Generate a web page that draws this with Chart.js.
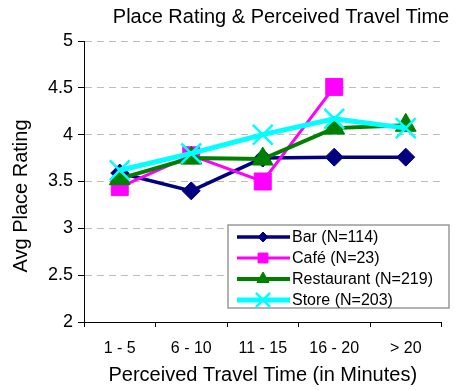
<!DOCTYPE html>
<html>
<head>
<meta charset="utf-8">
<script src="https://cdn.jsdelivr.net/npm/chart.js@4/dist/chart.umd.min.js"></script>
<style>
  html, body { margin: 0; padding: 0; background: #fff; overflow: hidden; }
  #wrap { width: 458px; height: 390px; }
</style>
</head>
<body>
<div id="wrap"><canvas id="rating" width="458" height="390"></canvas></div>
<script>
'use strict';

/* data */
const categories = ['1 - 5', '6 - 10', '11 - 15', '16 - 20', '> 20'];
const barVals        = [3.59, 3.40, 3.75, 3.76, 3.76];
const cafeVals       = [3.44, 3.78, 3.50, 4.51, null];
const restaurantVals = [3.53, 3.75, 3.74, 4.07, 4.10];
const storeVals      = [3.62, 3.80, 4.00, 4.17, 4.07];
const seriesNames = ['Bar (N=114)', 'Café (N=23)', 'Restaurant (N=219)', 'Store (N=203)'];

const FONT = "'Liberation Sans', Arial, sans-serif";

/* legend box inside the plot, line + marker + text */
const legendBox = {
  id: 'legendBox',
  afterDraw(chart) {
    const ctx = chart.ctx;
    const legendR = [5, 7, 7, 10];
    ctx.save();
    ctx.fillStyle = '#fff';
    ctx.strokeStyle = '#999';
    ctx.lineWidth = 1.5;
    ctx.fillRect(228, 225, 221, 83);
    ctx.strokeRect(228, 225, 221, 83);
    chart.data.datasets.forEach((ds, i) => {
      const y = 237 + i * 21;
      ctx.strokeStyle = ds.borderColor;
      ctx.lineWidth = ds.borderWidth;
      ctx.beginPath();
      ctx.moveTo(237, y);
      ctx.lineTo(290, y);
      ctx.stroke();
      ctx.fillStyle = ds.pointBackgroundColor;
      ctx.strokeStyle = ds.pointBorderColor;
      ctx.lineWidth = ds.pointBorderWidth;
      Chart.helpers.drawPoint(ctx, {
        pointStyle: ds.pointStyle, rotation: 0,
        radius: legendR[i], borderWidth: ds.pointBorderWidth,
      }, 263, y);
      ctx.fillStyle = '#000';
      ctx.font = '16px ' + FONT;
      ctx.textAlign = 'left';
      ctx.textBaseline = 'middle';
      ctx.fillText(ds.label, 292, y + 1);
    });
    ctx.restore();
  },
};

/* chart title + y axis title, placed like the original */
const titles = {
  id: 'titles',
  afterDraw(chart) {
    const ctx = chart.ctx;
    ctx.save();
    ctx.fillStyle = '#000';
    ctx.font = '20px ' + FONT;
    ctx.textAlign = 'center';
    ctx.textBaseline = 'middle';
    ctx.fillText('Place Rating & Perceived Travel Time', 281, 17);
    ctx.translate(21, 196);
    ctx.rotate(-Math.PI / 2);
    ctx.fillText('Avg Place Rating', 0, 0);
    ctx.restore();
  },
};

const chart = new Chart(
  document.getElementById('rating').getContext('2d'),
  {
    type: 'line',
    data: {
      labels: categories,
      datasets: [
        {
          label: seriesNames[0], data: barVals, order: 4,
          borderColor: '#000080', borderWidth: 3.5,
          pointStyle: 'rectRot', pointRadius: 9,
          pointBackgroundColor: '#000080', pointBorderColor: '#000080', pointBorderWidth: 1,
        },
        {
          label: seriesNames[1], data: cafeVals, order: 3,
          borderColor: '#FF00FF', borderWidth: 3,
          pointStyle: 'rect', pointRadius: 12,
          pointBackgroundColor: '#FF00FF', pointBorderColor: '#FF00FF', pointBorderWidth: 1,
        },
        {
          label: seriesNames[2], data: restaurantVals, order: 2,
          borderColor: '#008000', borderWidth: 4,
          pointStyle: 'triangle', pointRadius: 12,
          pointBackgroundColor: '#008000', pointBorderColor: '#008000', pointBorderWidth: 1,
        },
        {
          label: seriesNames[3], data: storeVals, order: 1,
          borderColor: '#00FFFF', borderWidth: 5,
          pointStyle: 'crossRot', pointRadius: 14,
          pointBackgroundColor: '#00FFFF', pointBorderColor: '#00FFFF', pointBorderWidth: 2.5,
        },
      ],
    },
    options: {
      responsive: false,
      devicePixelRatio: 1,
      animation: false,
      layout: { padding: { top: 41 } },
      elements: { line: { tension: 0 } },
      plugins: {
        legend: { display: false },
        tooltip: { enabled: false },
        title: { display: false },
      },
      scales: {
        x: {
          offset: true,
          afterFit: s => { s.height = 68; },
          grid: {
            offset: true, drawOnChartArea: false,
            tickLength: 5, tickColor: '#000', tickBorderDash: [],
          },
          border: { color: '#000', width: 1 },
          ticks: {
            color: '#000', padding: 12, maxRotation: 0,
            font: { family: FONT, size: 16 },
          },
          title: {
            display: true,
            text: 'Perceived Travel Time (in Minutes)',
            color: '#000',
            font: { family: FONT, size: 20 },
            padding: { top: 0, bottom: 3 },
          },
        },
        y: {
          min: 2, max: 5,
          afterFit: s => { s.width = 84; },
          grid: {
            color: '#bdbdbd', tickColor: '#000', tickLength: 6, tickBorderDash: [],
          },
          border: { color: '#000', width: 1, dash: [7, 5] },
          ticks: {
            stepSize: 0.5, color: '#000', padding: 5,
            font: { family: FONT, size: 18 },
            callback: v => String(v),
          },
        },
      },
    },
    plugins: [legendBox, titles],
  }
);
</script>
</body>
</html>
